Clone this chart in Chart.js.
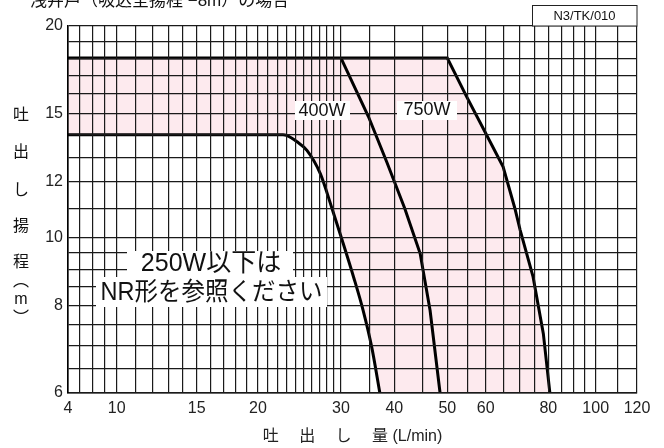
<!DOCTYPE html>
<html lang="ja">
<head>
<meta charset="utf-8">
<title>吐出し量と吐出し揚程</title>
<script src="https://cdn.jsdelivr.net/npm/chart.js@4.4.1/dist/chart.umd.min.js"></script>
<style>
  html, body { margin: 0; padding: 0; background: #fff; }
  #wrap { width: 664px; height: 448px; }
</style>
</head>
<body>
<div id="wrap"><canvas id="pumpChart" width="664" height="448"></canvas></div>
<script>
const X_LABELS = [4, 10, 15, 20, 30, 40, 50, 60, 80, 100, 120];
const X_GRID = [4, 5, 6.3, 8, 10, 11, 12, 13, 14, 15, 16, 17, 18, 19, 20, 21, 22, 23, 24, 25,
  26, 27, 28, 29, 30, 35, 40, 45, 50, 55, 60, 65, 70, 75, 80, 85, 90, 95, 100, 110, 120];
const Y_LABELS = [6, 8, 10, 12, 15, 20];
const Y_GRID = [6, 6.5, 7, 7.5, 8, 8.5, 9, 9.5, 10, 11, 12, 13, 14, 15, 16, 17, 18, 19, 20];

// lower limit curve
const MIN_FLOW = [4, 22.6, 23.0, 24.2, 25.4, 27.1, 28.7, 30.1, 32.1, 33.8, 35.4, 37.0];
const MIN_HEAD = [14, 14, 13.97, 13.68, 13.3, 12.33, 11.0, 9.96, 8.78, 7.87, 6.98, 6];
// 400W
const W400_FLOW = [30, 34.8, 38.4, 41.8, 44.6, 46.5, 48.5];
const W400_HEAD = [18, 14.85, 12.8, 10.99, 9.48, 7.87, 6];
// 750W (with the common 18 m top line)
const W750_FLOW = [4, 50, 54.8, 60, 65, 68.6, 70.3, 74.6, 78.2, 80.6];
const W750_HEAD = [18, 18, 15.86, 14.07, 12.6, 11.0, 10.24, 8.78, 7.29, 6];

// where each labelled flow value sits across the plot width (the paper is not evenly spaced)
const X_KNOT_POS = [0, 0.0856, 0.2262, 0.3339, 0.4798, 0.5735, 0.6666, 0.7341, 0.8441, 0.9274, 1];

const FONT = '"Liberation Sans", "Noto Sans CJK JP", sans-serif';

class FlowScale extends Chart.LinearScale {
  buildTicks() {
    return X_GRID.map((v) => ({ value: v }));
  }
  fraction(value) {
    if (value <= X_LABELS[0]) return 0;
    for (let i = 0; i < X_LABELS.length - 1; i++) {
      const a = X_LABELS[i], b = X_LABELS[i + 1];
      if (value <= b) {
        const t = Math.log(value / a) / Math.log(b / a);
        return X_KNOT_POS[i] + t * (X_KNOT_POS[i + 1] - X_KNOT_POS[i]);
      }
    }
    return 1;
  }
  getPixelForValue(value) {
    return this.left + this.fraction(value) * this.width;
  }
  getValueForPixel(pixel) {
    const f = (pixel - this.left) / this.width;
    for (let i = 0; i < X_LABELS.length - 1; i++) {
      if (f <= X_KNOT_POS[i + 1]) {
        const t = (f - X_KNOT_POS[i]) / (X_KNOT_POS[i + 1] - X_KNOT_POS[i]);
        return X_LABELS[i] * Math.pow(X_LABELS[i + 1] / X_LABELS[i], t);
      }
    }
    return X_LABELS[X_LABELS.length - 1];
  }
}
FlowScale.id = "flow";
FlowScale.defaults = {};
Chart.register(FlowScale);

const toPoints = (xs, ys) => xs.map((x, i) => ({ x: x, y: ys[i] }));

function box(ctx, x, y, w, h) {
  ctx.fillStyle = "#fff";
  ctx.fillRect(x, y, w, h);
}

const notes = {
  id: "notes",
  afterDraw(chart) {
    const ctx = chart.ctx;
    ctx.save();
    ctx.fillStyle = "#111";
    ctx.textAlign = "left";
    ctx.textBaseline = "alphabetic";
    ctx.font = `17px ${FONT}`;
    ctx.fillText("浅井戸（吸込全揚程 −8m）の場合", 30, 6);

    box(ctx, 532, 6, 105, 20);
    ctx.strokeStyle = "#222";
    ctx.lineWidth = 1;
    ctx.strokeRect(532.5, 5.5, 104.5, 20.5);
    ctx.fillStyle = "#111";
    ctx.font = `13px ${FONT}`;
    ctx.textAlign = "center";
    ctx.textBaseline = "middle";
    ctx.fillText("N3/TK/010", 584.5, 16.5);

    // stacked y title
    ctx.font = `16px ${FONT}`;
    [["吐", 116], ["出", 153], ["し", 191], ["揚", 227], ["程", 263], ["︵", 282], ["m", 300], ["︶", 319]]
      .forEach(([ch, y]) => ctx.fillText(ch, 21, y));

    box(ctx, 295, 101, 55, 19);
    box(ctx, 397, 101, 60, 19);
    ctx.fillStyle = "#111";
    ctx.font = `18px ${FONT}`;
    ctx.fillText("400W", 322, 111);
    ctx.fillText("750W", 427, 110);

    box(ctx, 127, 251, 166, 26);
    box(ctx, 96, 277, 231, 30);
    ctx.fillStyle = "#111";
    ctx.font = `25px ${FONT}`;
    ctx.fillText("250W以下は", 211, 264);
    ctx.fillText("NR形を参照ください", 211.5, 293, 222);
    ctx.restore();
  },
};

const line = (data, extra) => Object.assign({
  data: data,
  borderColor: "#000",
  borderWidth: 3,
  pointRadius: 0,
  fill: false,
  tension: 0,
}, extra);

const gridOpts = { color: "#1a1a1a", lineWidth: 1.2, drawTicks: false, z: 1 };
const borderOpts = { color: "#000", width: 1.6, z: 1 };

new Chart(document.getElementById("pumpChart"), {
  type: "line",
  data: {
    datasets: [
      line(toPoints(MIN_FLOW, MIN_HEAD), { fill: "start", backgroundColor: "#fff", cubicInterpolationMode: "monotone" }),
      line(toPoints(W400_FLOW, W400_HEAD)),
      line(toPoints(W750_FLOW, W750_HEAD), { fill: "start", backgroundColor: "#fdeaee" }),
    ],
  },
  options: {
    responsive: false,
    animation: false,
    devicePixelRatio: 1,
    layout: { padding: { top: 26, right: 27, left: 0, bottom: 0 } },
    plugins: {
      legend: { display: false },
      tooltip: { enabled: false },
    },
    scales: {
      x: {
        type: "flow",
        min: 4,
        max: 120,
        afterFit: (s) => { s.height = 55; },
        grid: gridOpts,
        border: borderOpts,
        ticks: {
          z: 1,
          autoSkip: false,
          maxRotation: 0,
          padding: 6,
          color: "#222",
          font: { family: FONT, size: 16 },
          callback: (v) => (X_LABELS.includes(v) ? String(v) : ""),
        },
        title: {
          display: true,
          text: "吐　 出　 し　 量 (L/min)",
          color: "#222",
          font: { family: FONT, size: 16 },
          padding: { top: 0, bottom: 2 },
        },
      },
      y: {
        type: "logarithmic",
        min: 6,
        max: 20,
        afterFit: (s) => { s.width = 68; },
        afterBuildTicks: (s) => { s.ticks = Y_GRID.map((v) => ({ value: v })); },
        grid: gridOpts,
        border: borderOpts,
        ticks: {
          z: 1,
          autoSkip: false,
          padding: 5,
          color: "#222",
          font: { family: FONT, size: 16 },
          callback: (v) => (Y_LABELS.includes(v) ? String(v) : ""),
        },
      },
    },
  },
  plugins: [notes],
});
</script>
</body>
</html>
